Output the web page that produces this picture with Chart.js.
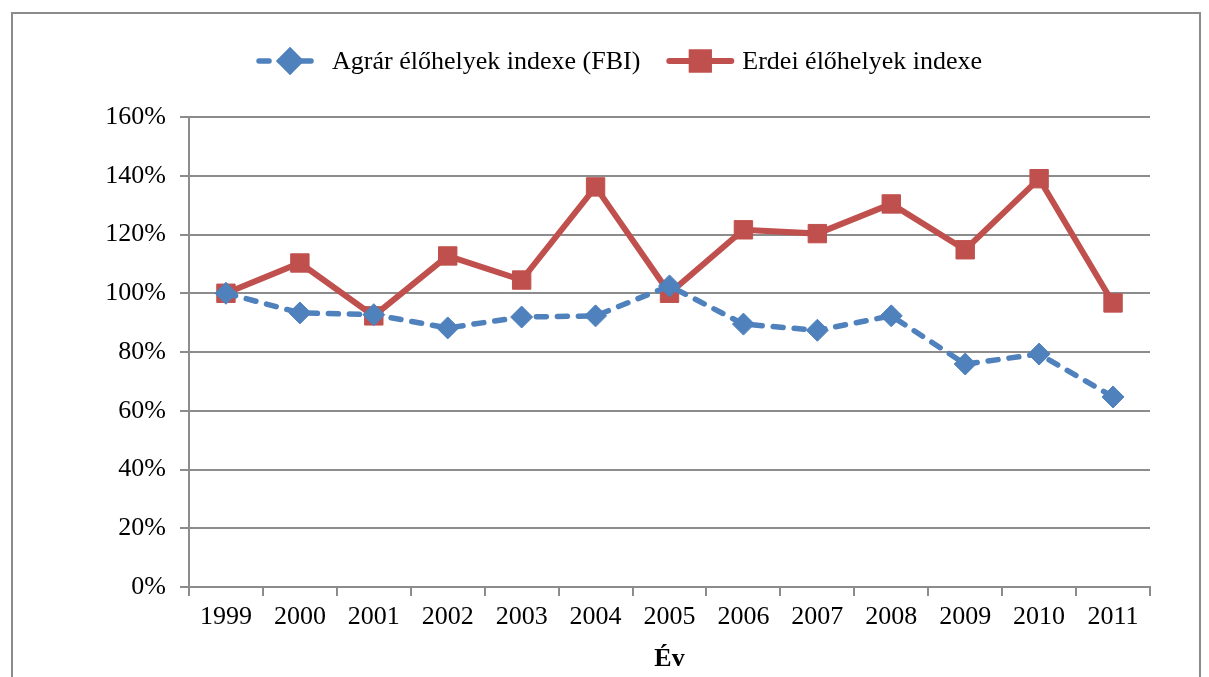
<!DOCTYPE html>
<html lang="hu">
<head>
  <meta charset="UTF-8">
  <title>Élőhelyek indexe</title>
  <script src="https://cdn.jsdelivr.net/npm/chart.js"></script>
  <style>
    html, body { margin: 0; padding: 0; background: #fff; overflow: hidden; }
    .wrap { position: relative; width: 1209px; height: 677px; }
    .frame {
      position: absolute; left: 11px; top: 12px; width: 1190px; height: 700px;
      border: 2px solid #8c8c8c; box-sizing: border-box;
    }
  </style>
</head>
<body>
  <div class="wrap">
    <div class="frame"></div>
    <canvas id="chart" width="1209" height="677"></canvas>
  </div>

  <script>
    const years = ['1999', '2000', '2001', '2002', '2003', '2004', '2005', '2006', '2007', '2008', '2009', '2010', '2011'];
    const agrar = [100, 93.3, 92.7, 88.2, 91.9, 92.3, 102.5, 89.5, 87.4, 92.3, 75.9, 79.3, 64.7];
    const erdei = [100, 110.3, 92.3, 112.7, 104.5, 136.2, 100, 121.6, 120.3, 130.4, 114.8, 139, 96.7];
    const yTicks = [0, 20, 40, 60, 80, 100, 120, 140, 160];

    const FONT = "'Liberation Serif', 'Times New Roman', serif";
    const BLUE = '#4F81BD';
    const RED = '#C0504D';
    const GRID = '#8c8c8c';

    // legend with line + marker, drawn like the office chart
    const lineLegend = {
      id: 'lineLegend',
      afterDraw(chart) {
        const ctx = chart.ctx;
        const y = 61;
        const seg = 68, gapText = 8, gapItem = 26;
        ctx.save();
        ctx.font = '26px ' + FONT;
        const items = chart.data.datasets.map(ds => ({ ds, w: ctx.measureText(ds.label).width }));
        const total = items.reduce((s, it) => s + seg + gapText + it.w, 0) + gapItem * (items.length - 1);
        let x = 619 - total / 2;
        items.forEach(({ ds, w }) => {
          ctx.strokeStyle = ds.borderColor;
          ctx.lineWidth = ds.borderWidth;
          ctx.setLineDash(ds.borderDash || []);
          ctx.lineCap = 'round';
          ctx.beginPath();
          ctx.moveTo(x + 3, y);
          ctx.lineTo(x + seg - 3, y);
          ctx.stroke();
          ctx.setLineDash([]);
          Chart.helpers.drawPoint(ctx, {
            pointStyle: ds.pointStyle, radius: ds.pointRadius - 1, borderWidth: 1, rotation: 0
          }, x + seg / 2, y);
          ctx.fillStyle = ds.pointBackgroundColor;
          ctx.strokeStyle = ds.pointBorderColor;
          ctx.fill();
          ctx.stroke();
          ctx.fillStyle = '#000';
          ctx.textBaseline = 'middle';
          ctx.textAlign = 'left';
          ctx.fillText(ds.label, x + seg + gapText, y + 1);
          x += seg + gapText + w + gapItem;
        });
        ctx.restore();
      }
    };

    new Chart(document.getElementById('chart'), {
      type: 'line',
      data: {
        labels: years,
        datasets: [
          {
            label: 'Agrár élőhelyek indexe (FBI)',
            data: agrar,
            borderColor: BLUE,
            backgroundColor: BLUE,
            borderWidth: 5.5,
            borderDash: [10, 11],
            borderCapStyle: 'round',
            pointStyle: 'rectRot',
            pointRadius: 11,
            pointBackgroundColor: BLUE,
            pointBorderColor: BLUE,
            pointBorderWidth: 1,
            tension: 0
          },
          {
            label: 'Erdei élőhelyek indexe',
            data: erdei,
            borderColor: RED,
            backgroundColor: RED,
            borderWidth: 6,
            pointStyle: 'rect',
            pointRadius: 13,
            pointBackgroundColor: RED,
            pointBorderColor: RED,
            pointBorderWidth: 1,
            tension: 0
          }
        ]
      },
      options: {
        responsive: false,
        animation: false,
        layout: { padding: { left: 0, right: 59, top: 117, bottom: 0 } },
        plugins: {
          legend: { display: false },
          tooltip: { enabled: false }
        },
        scales: {
          x: {
            offset: true,
            grid: {
              offset: true,
              drawOnChartArea: false,
              drawTicks: true,
              tickLength: 9,
              color: GRID,
              lineWidth: 2
            },
            border: { color: GRID, width: 2 },
            ticks: { color: '#000', font: { family: FONT, size: 26 }, padding: 6, maxRotation: 0, autoSkip: false },
            title: {
              display: true,
              text: 'Év',
              color: '#000',
              font: { family: FONT, size: 26, weight: 'bold' },
              padding: { top: 0, bottom: 2 }
            },
            afterFit(scale) { scale.height = 90; }
          },
          y: {
            min: 0,
            max: 160,
            afterBuildTicks(scale) { scale.ticks = yTicks.map(v => ({ value: v })); },
            grid: {
              color: GRID,
              lineWidth: 2,
              drawTicks: true,
              tickLength: 9
            },
            border: { color: GRID, width: 2 },
            ticks: {
              color: '#000',
              font: { family: FONT, size: 26 },
              padding: 14,
              callback: v => v + '%'
            },
            afterFit(scale) { scale.width = 189; }
          }
        }
      },
      plugins: [lineLegend]
    });
  </script>
</body>
</html>
